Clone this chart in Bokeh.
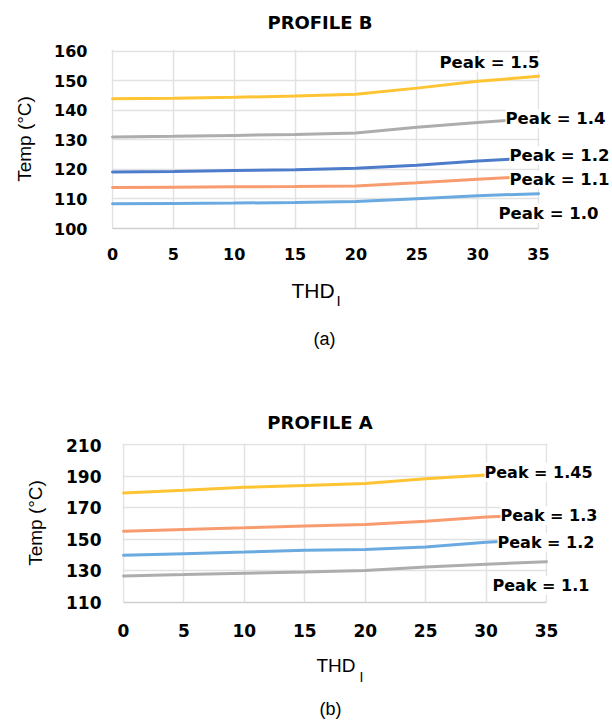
from bokeh.plotting import figure
from bokeh.models import Range1d, FixedTicker, Label, BoxAnnotation
from bokeh.layouts import column
from bokeh.embed import file_html
from bokeh.resources import INLINE

# ---------------- data ----------------
thd = [0, 5, 10, 15, 20, 25, 30, 35]
x_ticks = [0, 5, 10, 15, 20, 25, 30, 35]

# PROFILE B (a)
b_peak_15 = [143.9, 144.1, 144.4, 144.8, 145.4, 147.5, 149.8, 151.5]
b_peak_14 = [131.0, 131.2, 131.5, 131.8, 132.3, 134.3, 135.9, 137.2]
b_peak_12 = [119.1, 119.3, 119.6, 119.9, 120.4, 121.4, 122.8, 124.0]
b_peak_11 = [113.9, 114.0, 114.1, 114.2, 114.4, 115.5, 116.7, 117.7]
b_peak_10 = [108.4, 108.5, 108.6, 108.8, 109.1, 110.1, 111.1, 111.8]
b_yticks = [100, 110, 120, 130, 140, 150, 160]

# PROFILE A (b)
a_peak_145 = [179.5, 181.2, 183.1, 184.3, 185.5, 188.5, 191.0, 193.5]
a_peak_13 = [155.3, 156.4, 157.4, 158.5, 159.5, 161.6, 164.3, 166.0]
a_peak_12 = [140.0, 141.0, 142.0, 143.1, 143.7, 145.2, 148.3, 150.0]
a_peak_11 = [126.9, 127.7, 128.6, 129.4, 130.3, 132.5, 134.3, 135.9]
a_yticks = [110, 130, 150, 170, 190, 210]

YELLOW = "#FFC433"
GRAY = "#ADADAD"
BLUE = "#4D7CCB"
ORANGE = "#F89C70"
LBLUE = "#6AAAE0"
GRID = "#E2E2E2"
EDGE = "#CFCFCF"

BOLD = "DejaVu Sans"
REG = "Liberation Sans"

W = 612
LB = 105  # left border shared by all panels (page px)


def make_chart(top, height, frame_t, frame_b, px0, px35, yr, yticks,
               xstand, ystand, alstand, tick_size):
    """frame_t/frame_b: page y of frame; px0/px35: page x of THD=0 and 35."""
    ppu = (px35 - px0) / 35.0
    xs = -(px0 - LB) / ppu
    xe = xs + (W - LB) / ppu
    p = figure(width=W, height=height, x_range=Range1d(xs, xe), y_range=Range1d(*yr),
               output_backend="svg", toolbar_location=None,
               min_border_left=LB, min_border_right=0,
               min_border_top=frame_t - top, min_border_bottom=top + height - frame_b)
    p.xaxis.ticker = FixedTicker(ticks=x_ticks)
    p.yaxis.ticker = FixedTicker(ticks=yticks)
    p.xaxis.bounds = (0, 35)
    for ax in (p.xaxis[0], p.yaxis[0]):
        ax.major_tick_line_color = None
        ax.minor_tick_line_color = None
        ax.major_tick_out = 0
        ax.major_tick_in = 0
        ax.minor_tick_out = 0
        ax.major_label_text_font = BOLD
        ax.major_label_text_font_style = "bold"
        ax.major_label_text_font_size = tick_size
        ax.major_label_text_color = "#000000"
    p.xaxis.axis_line_color = EDGE
    p.xaxis.axis_line_width = 1.5
    p.yaxis.axis_line_color = None
    p.xaxis.major_label_standoff = xstand
    p.yaxis.major_label_standoff = ystand
    p.yaxis.axis_label = "Temp (°C)"
    p.yaxis.axis_label_text_font = REG
    p.yaxis.axis_label_text_font_style = "normal"
    p.yaxis.axis_label_text_font_size = "19px"
    p.yaxis.axis_label_text_color = "#000000"
    p.yaxis.axis_label_standoff = alstand
    p.xgrid.grid_line_color = GRID
    p.ygrid.grid_line_color = GRID
    p.xgrid.grid_line_width = 1.5
    p.ygrid.grid_line_width = 1.5
    p.outline_line_color = None
    p.background_fill_color = "white"
    p.border_fill_color = "white"
    eps = 0.9 / ppu
    p.add_layout(BoxAnnotation(right=-eps, fill_color="white", fill_alpha=1,
                               line_color=None, level="underlay"))
    p.add_layout(BoxAnnotation(left=35 + eps, fill_color="white", fill_alpha=1,
                               line_color=None, level="underlay"))

    y0, y1 = yr

    def to_data(px, py):
        return xs + (px - LB) / ppu, y1 - (py - frame_t) / (frame_b - frame_t) * (y1 - y0)
    return p, to_data


def make_caption(top, height):
    p = figure(width=W, height=height, x_range=Range1d(LB, W),
               y_range=Range1d(top + height, top),
               output_backend="svg", toolbar_location=None,
               x_axis_location=None, y_axis_location=None,
               min_border_left=LB, min_border_right=0,
               min_border_top=0, min_border_bottom=0)
    p.grid.visible = False
    p.outline_line_color = None
    p.background_fill_color = "white"
    p.border_fill_color = "white"
    return p


def text(p, x, y, s, font, size, style="normal", align="left", bg=None):
    kw = dict(x=x, y=y, text=s, text_font=font, text_font_size=size,
              text_font_style=style, text_align=align, text_baseline="middle",
              text_color="#000000")
    if bg is not None:
        kw["background_fill_color"] = bg
    p.add_layout(Label(**kw))


# ---------- header: PROFILE B (page y 0..40) ----------
hdr = make_caption(0, 40)
text(hdr, 319.5, 21.7, "PROFILE B", BOLD, "18px", "bold", "center")

# ---------- chart (a): page y 40..270 ----------
p1, f1 = make_chart(40, 230, 49, 228, 112, 538, (100, 160.57), b_yticks,
                    19, 18, 16, "16px")
for ys, c in [(b_peak_15, YELLOW), (b_peak_14, GRAY), (b_peak_12, BLUE),
              (b_peak_11, ORANGE), (b_peak_10, LBLUE)]:
    p1.line(thd, ys, line_color=c, line_width=3, line_cap="round")
for (px, py, s) in [(439, 61.7, "Peak = 1.5"), (505, 118, "Peak = 1.4"),
                    (509, 155, "Peak = 1.2"), (509, 179.3, "Peak = 1.1"),
                    (498, 212.7, "Peak = 1.0")]:
    x, y = f1(px, py)
    text(p1, x, y, s, BOLD, "16.5px", "bold", bg="white")

# ---------- caption (a) + header PROFILE A: page y 270..436 ----------
cap1 = make_caption(270, 166)
text(cap1, 291, 290, "THD", REG, "21px")
text(cap1, 336, 300, "I", REG, "15px")
text(cap1, 324, 338.5, "(a)", REG, "18px", align="center")
text(cap1, 319.5, 421.7, "PROFILE A", BOLD, "18px", "bold", "center")

# ---------- chart (b): page y 436..645 ----------
p2, f2 = make_chart(436, 209, 443, 602, 123, 546, (110, 210.95), a_yticks,
                    21, 4, 17, "17px")
for ys, c in [(a_peak_145, YELLOW), (a_peak_13, ORANGE), (a_peak_12, LBLUE),
              (a_peak_11, GRAY)]:
    p2.line(thd, ys, line_color=c, line_width=3, line_cap="round")
for (px, py, s) in [(484, 471.7, "Peak = 1.45"), (500, 515, "Peak = 1.3"),
                    (497, 541.7, "Peak = 1.2"), (492, 585, "Peak = 1.1")]:
    x, y = f2(px, py)
    text(p2, x, y, s, BOLD, "16px", "bold", bg="white")

# ---------- caption (b): page y 645..720 ----------
cap2 = make_caption(645, 75)
text(cap2, 316, 665, "THD", REG, "19px")
text(cap2, 359, 676, "I", REG, "14px")
text(cap2, 330, 708, "(b)", REG, "18px", align="center")

layout = column(hdr, p1, cap1, p2, cap2, spacing=0)
open("out.html", "w").write(file_html(layout, INLINE))
